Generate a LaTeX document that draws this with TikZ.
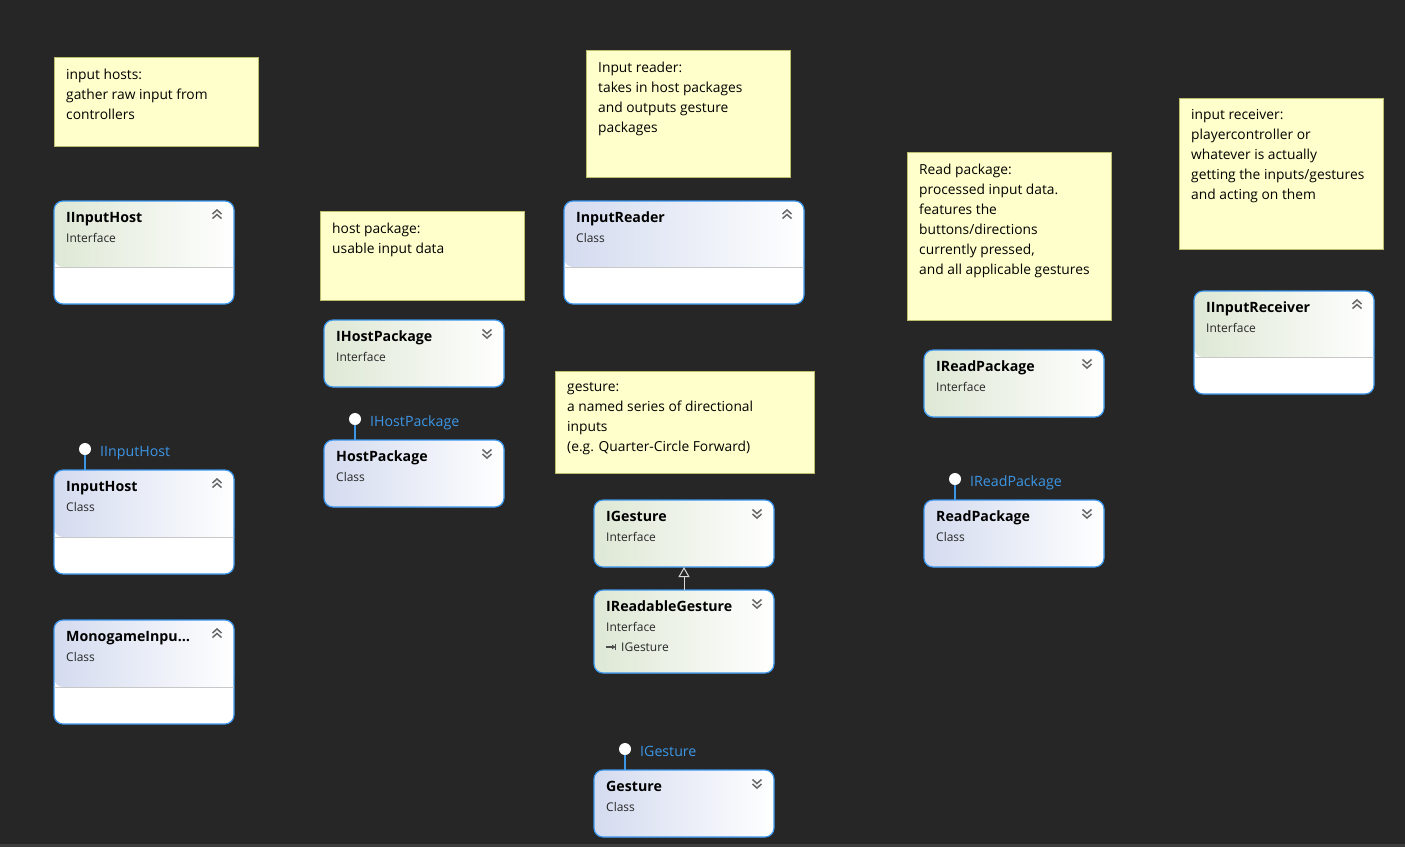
\documentclass[tikz,border=0pt]{standalone}
\usepackage{fontspec}
\setmainfont{Open Sans}
\usetikzlibrary{calc,arrows.meta}
\definecolor{bg}{HTML}{262626}
\definecolor{bgline}{HTML}{3C3C3C}
\definecolor{notefill}{HTML}{FFFFCC}
\definecolor{notebd}{HTML}{BDBD6E}
\definecolor{boxbd}{HTML}{3A96EE}
\definecolor{ifcol}{HTML}{DEE8D5}
\definecolor{clcol}{HTML}{D4DBEF}
\definecolor{lblue}{HTML}{3C96E6}
\definecolor{chevgray}{HTML}{666666}
\definecolor{sepgray}{HTML}{C8C8C8}
\tikzset{
  note/.style={draw=notebd, fill=notefill, line width=0.9pt, inner sep=0pt, outer sep=0pt, anchor=north west},
  notetext/.style={anchor=north west, align=left, inner sep=0pt, font=\fontsize{13.8}{20}\selectfont, text=black},
  cbox/.style={draw=boxbd, fill=white, line width=1.2pt, rounded corners=9pt, inner sep=0pt, outer sep=0pt, anchor=north west},
  titletext/.style={anchor=base west, inner sep=0pt, font=\bfseries\fontsize{14.2}{16}\selectfont, text=black},
  kindtext/.style={anchor=base west, inner sep=0pt, font=\fontsize{12}{14}\selectfont, text=black!85},
  sepline/.style={draw=sepgray, line width=0.9pt},
  chevst/.style={draw=chevgray, line width=1.5pt},
  lolli/.style={circle, fill=white, minimum size=12pt, inner sep=0pt, outer sep=0pt},
  ifline/.style={draw=lblue, line width=1.2pt},
  iflabel/.style={anchor=base west, inner sep=0pt, font=\fontsize{14.2}{16}\selectfont, text=lblue},
  inherit/.style={draw=white!85!black, line width=1pt, -{Triangle[open, width=11pt, length=10pt]}}
}
% #1 name, #2 x, #3 y, #4 width, #5 height, #6 header height, #7 shade colour, #8 title, #9 kind
\newcommand\umlbox[9]{%
  \node[cbox, minimum width=#4pt, minimum height=#5pt,
    path picture={\shade[left color=#7, right color=white] (path picture bounding box.north west) rectangle ([yshift=-#6pt]path picture bounding box.north east);}]
    (#1) at (#2,#3) {};
  \node[titletext] (#1-t) at ($(#1.north west)+(12,21.5)$) {#8};
  \node[kindtext] (#1-k) at ($(#1.north west)+(12,41.5)$) {#9};
}
\newcommand\sepof[2]{\draw[sepline] ([yshift=-#2pt]#1.north west) -- ([yshift=-#2pt]#1.north east);}
\newcommand\chevup[1]{%
  \coordinate (#1-c) at ($(#1.north east)+(-17,13)$);
  \draw[chevst] ($(#1-c)+(-4.5,0)$) -- ($(#1-c)+(0,-4)$) -- ($(#1-c)+(4.5,0)$);
  \draw[chevst] ($(#1-c)+(-4.5,4.5)$) -- ($(#1-c)+(0,0.5)$) -- ($(#1-c)+(4.5,4.5)$);
}
\newcommand\chevdown[1]{%
  \coordinate (#1-c) at ($(#1.north east)+(-17,14)$);
  \draw[chevst] ($(#1-c)+(-4.5,-4.5)$) -- ($(#1-c)+(0,-0.5)$) -- ($(#1-c)+(4.5,-4.5)$);
  \draw[chevst] ($(#1-c)+(-4.5,0)$) -- ($(#1-c)+(0,4)$) -- ($(#1-c)+(4.5,0)$);
}
% #1 name, #2 box, #3 x, #4 y, #5 label
\newcommand\lollipop[5]{%
  \node[lolli] (#1) at (#3,#4) {};
  \draw[ifline] (#1.south) -- (#1.south |- #2.north);
  \node[iflabel] (#1-l) at ($(#1)+(15,7.5)$) {#5};
}
\begin{document}
\begin{tikzpicture}[x=1pt,y=-1pt]
\useasboundingbox (0,0) rectangle (1405,847);
\fill[bg] (0,0) rectangle (1405,847);
\fill[bgline] (0,844) rectangle (1405,847);

% notes
\node[note, minimum width=204pt, minimum height=89pt] (n1) at (54,57) {};
\node[notetext] (n1t) at (66,68.5) {input hosts:\\gather raw input from\\controllers};
\node[note, minimum width=204pt, minimum height=89pt] (n2) at (320,211) {};
\node[notetext] (n2t) at (332,222.5) {host package:\\usable input data};
\node[note, minimum width=204pt, minimum height=127pt] (n3) at (586,50) {};
\node[notetext] (n3t) at (598,61.5) {Input reader:\\takes in host packages\\and outputs gesture\\packages};
\node[note, minimum width=259pt, minimum height=102pt] (n4) at (555,371) {};
\node[notetext] (n4t) at (567,382.5) {gesture:\\a named series of directional\\inputs\\(e.g. Quarter-Circle Forward)};
\node[note, minimum width=204pt, minimum height=168pt] (n5) at (907,152) {};
\node[notetext] (n5t) at (919,163.5) {Read package:\\processed input data.\\features the\\buttons/directions\\currently pressed,\\and all applicable gestures};
\node[note, minimum width=204pt, minimum height=151pt] (n6) at (1179,98) {};
\node[notetext] (n6t) at (1191,109.5) {input receiver:\\playercontroller or\\whatever is actually\\getting the inputs/gestures\\and acting on them};

% boxes
\umlbox{iih}{54}{201}{180}{103}{66}{ifcol}{IInputHost}{Interface}
\sepof{iih}{66}\chevup{iih}
\umlbox{ih}{54}{470}{180}{104}{67}{clcol}{InputHost}{Class}
\sepof{ih}{67}\chevup{ih}
\umlbox{mgi}{54}{620}{180}{104}{67}{clcol}{MonogameInpu…}{Class}
\sepof{mgi}{67}\chevup{mgi}
\umlbox{ihp}{324}{320}{180}{67}{67}{ifcol}{IHostPackage}{Interface}
\chevdown{ihp}
\umlbox{hp}{324}{440}{180}{67}{67}{clcol}{HostPackage}{Class}
\chevdown{hp}
\umlbox{ir}{564}{201}{240}{103}{66}{clcol}{InputReader}{Class}
\sepof{ir}{66}\chevup{ir}
\umlbox{ig}{594}{500}{180}{67}{67}{ifcol}{IGesture}{Interface}
\chevdown{ig}
\umlbox{irg}{594}{590}{180}{83}{83}{ifcol}{IReadableGesture}{Interface}
\chevdown{irg}
\draw[draw=black!70, line width=1.2pt, -{Latex[length=4pt,width=5pt]}] ($(irg.north west)+(12,57)$) coordinate (irg-a0) -- ($(irg.north west)+(22,57)$) coordinate (irg-a1);
\draw[draw=black!70, line width=1pt] ($(irg-a1)+(-1,-3)$) -- ($(irg-a1)+(-1,3)$);
\node[kindtext] (irg-b) at ($(irg.north west)+(27,61.5)$) {IGesture};
\umlbox{g}{594}{770}{180}{67}{67}{clcol}{Gesture}{Class}
\chevdown{g}
\umlbox{irp}{924}{350}{180}{67}{67}{ifcol}{IReadPackage}{Interface}
\chevdown{irp}
\umlbox{rp}{924}{500}{180}{67}{67}{clcol}{ReadPackage}{Class}
\chevdown{rp}
\umlbox{iir}{1194}{291}{180}{103}{66}{ifcol}{IInputReceiver}{Interface}
\sepof{iir}{66}\chevup{iir}

% interface lollipops
\lollipop{l1}{ih}{85}{449}{IInputHost}
\lollipop{l2}{hp}{355}{419}{IHostPackage}
\lollipop{l3}{rp}{955}{479}{IReadPackage}
\lollipop{l4}{g}{625}{749}{IGesture}

% inheritance
\draw[inherit] (irg.north) -- (ig.south);
\end{tikzpicture}
\end{document}
